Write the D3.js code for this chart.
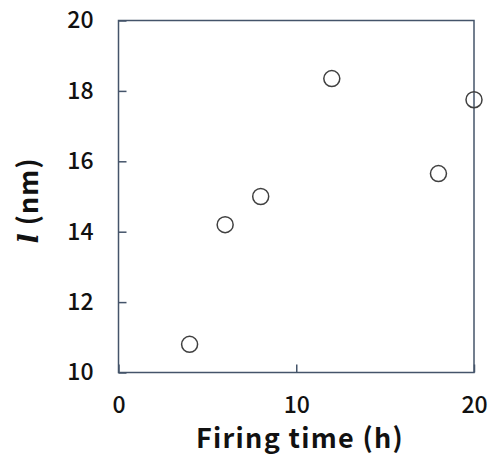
<!DOCTYPE html>
<html>
<head>
<meta charset="utf-8">
<script src="https://cdn.jsdelivr.net/npm/d3@7"></script>
<style>
  body { margin: 0; background: #fff; }
  text { font-family: "Noto Sans CJK JP", "Noto Sans", sans-serif; }
</style>
</head>
<body>
<script>
// Firing time (h) vs l (nm)
const firingTime = [4, 6, 8, 12, 18, 20];
const lengthNm = [10.8, 14.2, 15.0, 18.35, 15.65, 17.75];
const xTicks = [0, 10, 20];
const yTicks = [10, 12, 14, 16, 18, 20];

const width = 491, height = 469;
const margin = {left: 118.5, right: 17, top: 20.5, bottom: 96.5};

const svg = d3.select("body").append("svg")
    .attr("width", width)
    .attr("height", height);

const x = d3.scaleLinear().domain([0, 20]).range([margin.left, width - margin.right]);
const y = d3.scaleLinear().domain([10, 20]).range([height - margin.bottom, margin.top]);

const axisColor = "#44546a";

// frame
svg.append("rect")
    .attr("x", x(0)).attr("y", y(20))
    .attr("width", x(20) - x(0)).attr("height", y(10) - y(20))
    .attr("fill", "none")
    .attr("stroke", axisColor)
    .attr("stroke-width", 1.5);

// axes with inside ticks
const xAxis = svg.append("g")
    .attr("transform", `translate(0,${y(10)})`)
    .call(d3.axisBottom(x).tickValues(xTicks).tickSize(-8).tickPadding(24));
const yAxis = svg.append("g")
    .attr("transform", `translate(${x(0)},0)`)
    .call(d3.axisLeft(y).tickValues(yTicks).tickSize(-8).tickPadding(25));

[xAxis, yAxis].forEach(g => {
  g.select(".domain").remove();
  g.selectAll(".tick line").attr("stroke", axisColor).attr("stroke-width", 1.5);
  g.selectAll(".tick text")
    .attr("fill", "#111")
    .attr("font-size", 23)
    .attr("font-weight", 500)
    .style("font-family", '"Noto Sans CJK JP", sans-serif');
});
xAxis.selectAll(".tick text").attr("dy", "0.71em");

// points
svg.append("g")
  .selectAll("circle")
  .data(firingTime.map((t, i) => ({t, v: lengthNm[i]})))
  .join("circle")
    .attr("cx", d => x(d.t))
    .attr("cy", d => y(d.v))
    .attr("r", 8)
    .attr("fill", "none")
    .attr("stroke", "#404040")
    .attr("stroke-width", 1.5);

// axis titles
svg.append("text")
    .attr("x", 300)
    .attr("y", 448)
    .attr("text-anchor", "middle")
    .attr("font-size", 27)
    .attr("font-weight", 700)
    .attr("letter-spacing", 1.3)
    .attr("fill", "#111")
    .text("Firing time (h)");

const yt = svg.append("text")
    .attr("transform", `translate(38,${(y(10) + y(20)) / 2 + 4}) rotate(-90)`)
    .attr("text-anchor", "middle")
    .attr("font-size", 27)
    .attr("font-weight", 700)
    .attr("letter-spacing", 1)
    .attr("fill", "#111");
yt.append("tspan")
    .attr("font-style", "italic")
    .style("font-family", '"DejaVu Serif", serif')
    .text("l");
yt.append("tspan").text(" (nm)");
</script>
</body>
</html>
